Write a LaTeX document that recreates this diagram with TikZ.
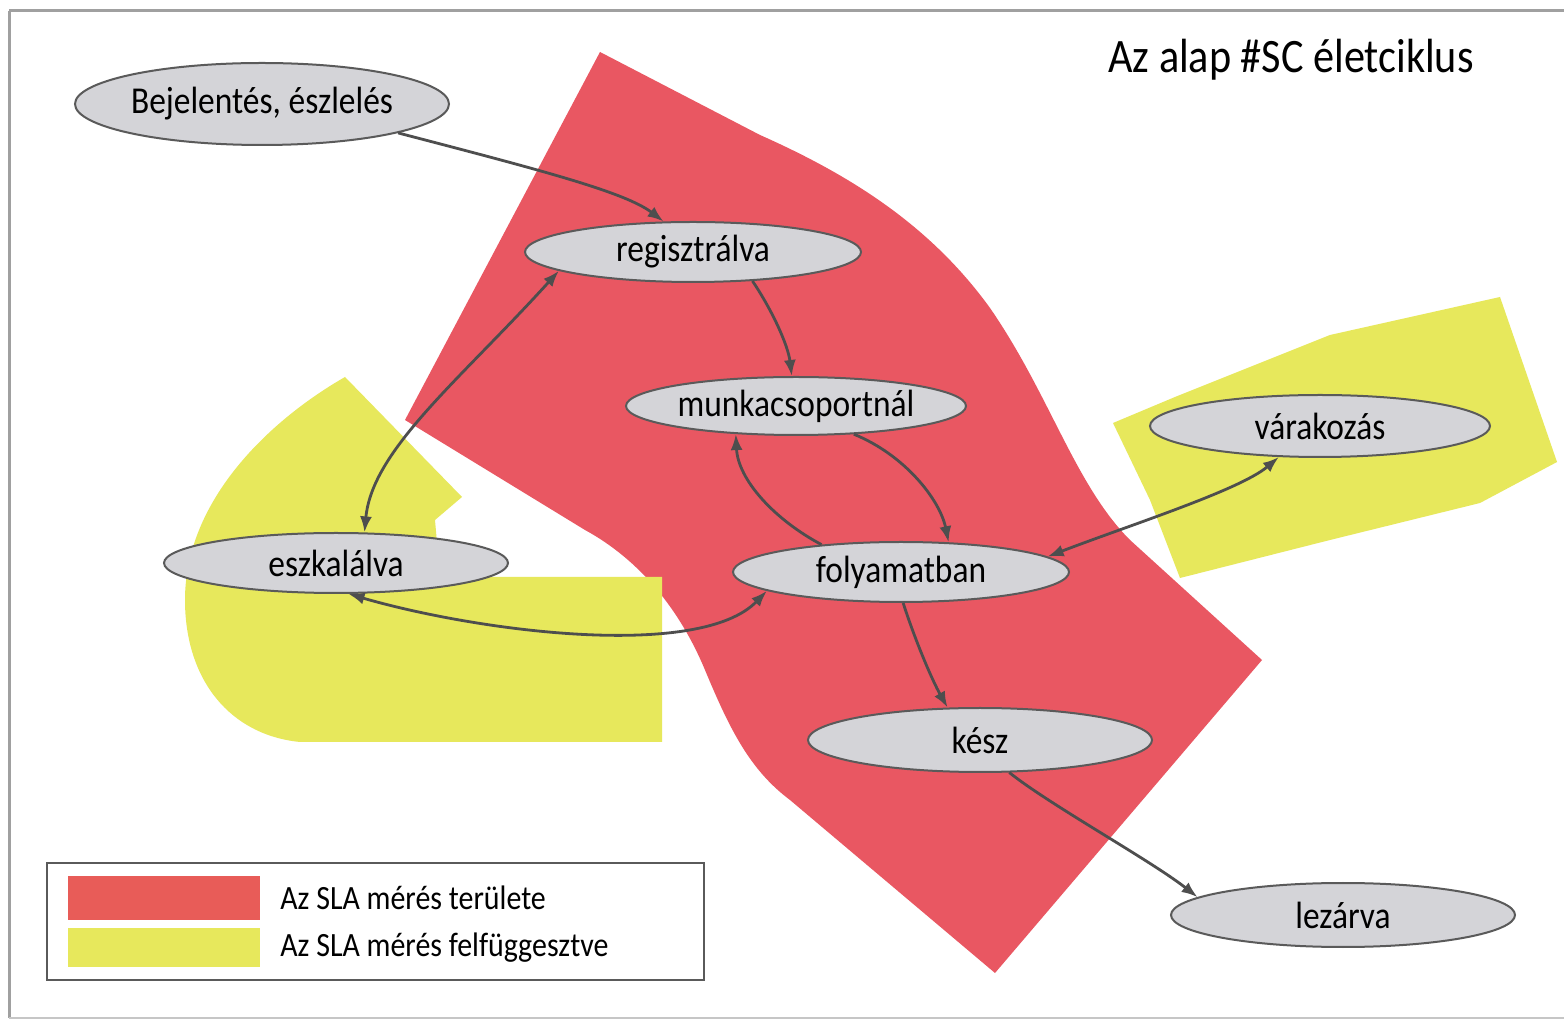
\documentclass[tikz,border=0pt]{standalone}
\usepackage{fontspec}
\setmainfont{Carlito}[FakeStretch=0.88]
\usetikzlibrary{arrows.meta,shapes.geometric}

\definecolor{slared}{HTML}{E95762}
\definecolor{legred}{HTML}{E85C58}
\definecolor{slayellow}{HTML}{E7E85C}
\definecolor{ellfill}{HTML}{D4D4D8}
\definecolor{ellborder}{HTML}{5A5A5A}
\definecolor{arrowgray}{HTML}{4E4E4E}
\definecolor{framegray}{HTML}{A0A0A0}

\begin{document}
\begin{tikzpicture}[x=0.5pt,y=-0.5pt,
  state/.style={ellipse, draw=ellborder, line width=1pt, fill=ellfill,
    inner sep=0pt, font=\fontsize{19}{22}\selectfont},
  flow/.style={draw=arrowgray, line width=1.4pt, -{Latex[length=8pt,width=6pt]}},
  both/.style={draw=arrowgray, line width=1.4pt,
    {Latex[length=8pt,width=6pt]}-{Latex[length=8pt,width=6pt]}},
  legtext/.style={anchor=west, inner sep=0pt, font=\fontsize{17}{20}\selectfont}]

% canvas and frame
\useasboundingbox (0,0) rectangle (1564,1020);
\fill[white] (0,0) rectangle (1564,1020);
\draw[framegray, line width=1.5pt] (9,11) -- (1564,11);
\draw[framegray, line width=1.5pt] (9,11) -- (9,1018);
\draw[framegray!60, line width=1pt] (9,1018) -- (1564,1018);

% area where the SLA is measured
\fill[slared] (600,52) -- (405,420) -- (585,530)
  .. controls (640,560) and (680,610) .. (705,670)
  .. controls (730,730) and (750,770) .. (790,800)
  -- (995,973) -- (1262,660) -- (1130,540)
  .. controls (1075,485) and (1050,395) .. (990,308)
  .. controls (930,225) and (850,175) .. (760,135)
  -- cycle;

% areas where the SLA is suspended
\fill[slayellow] (345,377) -- (462,497) -- (435,520) -- (440,577)
  -- (662,577) -- (662,742) -- (300,742)
  .. controls (230,735) and (185,680) .. (185,600)
  .. controls (185,500) and (270,420) .. (345,377) -- cycle;
\fill[slayellow] (1113,423) -- (1175,397) -- (1330,335) -- (1500,297)
  -- (1557,462) -- (1480,503) -- (1330,540) -- (1180,578)
  -- (1150,500) -- cycle;

% title
\node[inner sep=0pt, anchor=base, font=\fontsize{24}{28}\selectfont]
  (title) at (1291,73) {Az alap \#SC életciklus};

% states
\node[state, minimum width=187pt, minimum height=41pt] (bej)  at (262,104) {Bejelentés, észlelés};
\node[state, minimum width=168pt, minimum height=30pt] (reg)  at (693,252) {regisztrálva};
\node[state, minimum width=170pt, minimum height=29pt] (munk) at (796,406) {munkacsoportnál};
\node[state, minimum width=172pt, minimum height=30pt] (esk)  at (336,563) {eszkalálva};
\node[state, minimum width=168pt, minimum height=30pt] (fol)  at (901,572) {folyamatban};
\node[state, minimum width=170pt, minimum height=31pt] (var)  at (1320,426) {várakozás};
\node[state, minimum width=172pt, minimum height=32pt] (kesz) at (980,740) {kész};
\node[state, minimum width=172pt, minimum height=32pt] (lez)  at (1343,915) {lezárva};

% transitions
\draw[flow] (bej.-12) .. controls (540,170) and (625,192) .. (reg.134);
\draw[flow] (reg.-26) .. controls (772,310) and (788,345) .. (munk.98);
\draw[flow] (munk.-26) .. controls (905,455) and (940,500) .. (fol.32);
\draw[flow] (fol.161) .. controls (775,520) and (738,480) .. (munk.205);
\draw[both] (reg.188) .. controls (460,380) and (372,450) .. (esk.47);
\draw[both] (esk.-68) .. controls (480,632) and (700,660) .. (fol.188);
\draw[both] (fol.6) .. controls (1130,525) and (1240,490) .. (var.217);
\draw[flow] (fol.-86) .. controls (915,640) and (932,680) .. (kesz.135);
\draw[flow] (kesz.-48) .. controls (1050,805) and (1150,860) .. (lez.173);

% legend
\draw[ellborder, line width=0.8pt] (47,863) rectangle (704,980);
\fill[legred] (68,876) rectangle (260,920);
\fill[slayellow] (68,928) rectangle (260,967);
\node[legtext] (leg1) at (280,898) {Az SLA mérés területe};
\node[legtext] (leg2) at (280,948) {Az SLA mérés felfüggesztve};
\end{tikzpicture}
\end{document}
